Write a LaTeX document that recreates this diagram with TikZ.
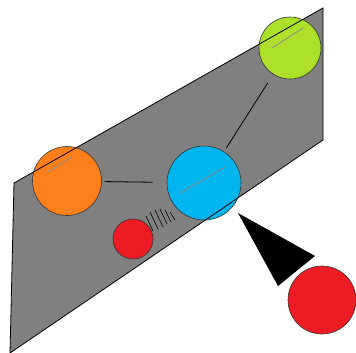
\documentclass[tikz,border=0pt]{standalone}
\definecolor{planegray}{HTML}{808080}
\definecolor{ballgreen}{HTML}{ADE02A}
\definecolor{ballorange}{HTML}{FF7F1A}
\definecolor{ballblue}{HTML}{00B4EE}
\definecolor{ballred}{HTML}{ED1C24}

\begin{document}
\begin{tikzpicture}[x=1pt,y=-1pt,
  ball/.style={circle,draw=black!80,line width=0.6pt,inner sep=0pt},
  rim/.style={line width=0.8pt},
  cut/.style={black!45,line width=0.8pt}]
 \useasboundingbox (0,0) rectangle (356,353);
 % the plane
 \coordinate (p1) at (14,183);
 \coordinate (p2) at (323,8);
 \coordinate (p3) at (323,140);
 \coordinate (p4) at (10,353);
 \fill[planegray] (p1) -- (p2) -- (p3) -- (p4) -- cycle;
 % balls
 \node[ball,fill=ballgreen,minimum size=62pt] (green) at (290,48) {};
 \node[ball,fill=ballorange,minimum size=69pt] (orange) at (67,181) {};
 \node[ball,fill=ballblue,minimum size=74pt] (blue) at (204,183) {};
 \node[ball,fill=ballred,minimum size=40pt] (small) at (133,239) {};
 \node[ball,fill=ballred,minimum size=68pt] (big) at (322,300) {};
 % where the plane cuts the balls
 \draw[cut] (272,48) -- (303,28);
 \draw[cut] (48,172) -- (72,157);
 \draw[cut] (180,193) -- (225,167);
 \draw[rim] (p1) -- (p2) -- (p3) -- (p4) -- cycle;
 % links
 \draw[rim,shorten <=3pt,shorten >=14pt] (orange) -- (blue);
 \draw[rim,shorten <=10pt,shorten >=4pt] (green) -- (blue);
 % squiggle
 \foreach \xa/\ya/\xb/\yb in {146/216/153/231,150/212/158/229,155/210/163/227,
   160/209/167/224,165/210/171/222,170/212/175/220}{
   \draw[line width=0.6pt] (\xa,\ya) -- (\xb,\yb);
 }
 % cone
 \coordinate (tip) at (238,213);
 \coordinate (c1) at (315,256);
 \coordinate (c2) at (278,286);
 \fill (tip) -- (c1) -- (c2) -- cycle;
\end{tikzpicture}
\end{document}
